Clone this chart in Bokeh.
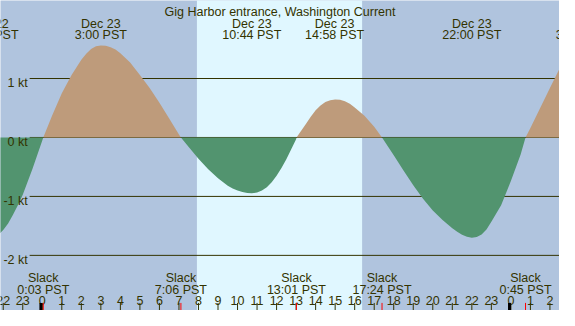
from bokeh.plotting import figure
from bokeh.models import Range1d
from bokeh.embed import file_html
from bokeh.resources import INLINE
from bokeh.core.properties import value

# ---------------- data (hours relative to Dec 23 00:00 PST, speed in knots) -------------
TITLE = "Gig Harbor entrance, Washington Current"

hours = [-2.75, -2.5, -2.25, -2.0, -1.75, -1.5, -1.25, -1.0, -0.5, 0.0, 0.05, 0.5, 1.0,
         1.5, 2.0, 2.25, 2.5, 2.75, 3.0, 3.25, 3.5, 3.75, 4.0, 4.5, 5.0, 5.5, 6.0, 6.5,
         7.0, 7.1, 7.5, 8.0, 8.5, 9.0, 9.5, 9.75, 10.0, 10.25, 10.5, 10.73, 11.0, 11.25,
         11.5, 11.75, 12.0, 12.25, 12.5, 12.75, 13.0, 13.02, 13.5, 13.75, 14.0, 14.25,
         14.5, 14.75, 15.0, 15.25, 15.5, 15.75, 16.0, 16.5, 17.0, 17.4, 18.0, 18.5, 19.0,
         19.5, 20.0, 20.5, 21.0, 21.25, 21.5, 21.75, 22.0, 22.25, 22.5, 22.75, 23.0, 23.5,
         24.0, 24.5, 24.75, 25.0, 25.5, 26.0, 26.5, 26.75]
speed = [-1.72, -1.70, -1.65, -1.57, -1.46, -1.31, -1.15, -0.97, -0.53, -0.05, 0.0, 0.37,
         0.75, 1.06, 1.32, 1.42, 1.50, 1.545, 1.56, 1.555, 1.53, 1.49, 1.43, 1.27, 1.06,
         0.84, 0.59, 0.32, 0.05, 0.0, -0.16, -0.36, -0.54, -0.69, -0.82, -0.865, -0.90,
         -0.925, -0.942, -0.947, -0.935, -0.90, -0.845, -0.76, -0.65, -0.52, -0.37, -0.20,
         -0.03, 0.0, 0.23, 0.35, 0.46, 0.54, 0.60, 0.63, 0.645, 0.638, 0.615, 0.57, 0.51,
         0.37, 0.18, 0.0, -0.30, -0.56, -0.81, -1.04, -1.24, -1.40, -1.54, -1.60, -1.65,
         -1.685, -1.70, -1.688, -1.645, -1.56, -1.43, -1.15, -0.74, -0.29, 0.0, 0.16, 0.50,
         0.84, 1.17, 1.33]

event_hours = [-2.73, 3.0, 10.73, 14.97, 22.0, 27.63]
event_dates = ["Dec 22", "Dec 23", "Dec 23", "Dec 23", "Dec 23", "Dec 24"]
event_times = ["21:16 PST", "3:00 PST", "10:44 PST", "14:58 PST", "22:00 PST", "3:38 PST"]

slack_hours = [0.05, 7.1, 13.017, 17.4, 24.75]
slack_times = ["0:03 PST", "7:06 PST", "13:01 PST", "17:24 PST", "0:45 PST"]

kt_values = [1, 0, -1, -2]
kt_labels = ["1 kt", "0 kt", "-1 kt", "-2 kt"]

tick_hours = list(range(-2, 27))
tick_labels = ["22", "23", "0", "1", "2", "3", "4", "5", "6", "7", "8", "9", "10", "11",
               "12", "13", "14", "15", "16", "17", "18", "19", "20", "21", "22", "23",
               "0", "1", "2"]
midnight_hours = [0, 24]

sunrise, sunset = 7.92, 16.38

# ---------------- style -----------------------------------------------------------------
NIGHT = "#b0c4de"
DAY = "#e0f7ff"
FLOOD = "#be9b7b"
EBB = "#52946f"
INK = "#333300"
FONT = value("Liberation Sans")
FS = "12.5px"

X0, X1 = -2.14, 26.49
Y0, Y1 = -2.935, 2.323


def py(pix):
    # reference pixel row -> knots
    return (144.0 - pix) / 62.0


p = figure(width=559, height=310, output_backend="svg", toolbar_location=None,
           x_range=Range1d(X0, X1), y_range=Range1d(Y0, Y1), min_border=0)
p.axis.visible = False
p.grid.visible = False
p.outline_line_color = None
p.background_fill_color = NIGHT
p.border_fill_color = NIGHT

# daylight band
p.quad(left=[sunrise], right=[sunset], bottom=[Y0 - 1], top=[Y1 + 1],
       fill_color=DAY, line_color=None)

# grid lines
grid_x0 = -0.647
p.segment(x0=[grid_x0] * len(kt_values), x1=[X1 + 1] * len(kt_values),
          y0=kt_values, y1=kt_values, line_color=INK, line_width=1)

# current fills
pos = [max(v, 0.0) for v in speed]
neg = [min(v, 0.0) for v in speed]
p.varea(x=hours, y1=[0.0] * len(hours), y2=pos, fill_color=FLOOD)
p.varea(x=hours, y1=neg, y2=[0.0] * len(hours), fill_color=EBB)

# y tick labels
p.text(x=[-0.747] * len(kt_values), y=[v - 4.5 / 62.0 for v in kt_values], text=kt_labels,
       text_font=FONT, text_font_size=FS, text_color=INK, text_align="right",
       text_baseline="alphabetic")

# title
p.text(x=[(X0 + X1) / 2], y=[py(12)], text=[TITLE], text_font=FONT, text_font_size=FS,
       text_color=INK, text_align="center", text_baseline="alphabetic")

# top event labels
p.text(x=event_hours, y=[py(24.3)] * len(event_hours), text=event_dates, text_font=FONT,
       text_font_size=FS, text_color=INK, text_align="center", text_baseline="alphabetic")
p.text(x=event_hours, y=[py(36.7)] * len(event_hours), text=event_times, text_font=FONT,
       text_font_size=FS, text_color=INK, text_align="center", text_baseline="alphabetic")

# slack labels
p.text(x=slack_hours, y=[py(292)] * len(slack_hours), text=["Slack"] * len(slack_hours),
       text_font=FONT, text_font_size=FS, text_color=INK, text_align="center",
       text_baseline="alphabetic")
p.text(x=slack_hours, y=[py(304.3)] * len(slack_hours), text=slack_times, text_font=FONT,
       text_font_size=FS, text_color=INK, text_align="center", text_baseline="alphabetic")

# hour labels
p.text(x=tick_hours, y=[py(315.3)] * len(tick_hours), text=tick_labels, text_font=FONT,
       text_font_size=FS, text_color=INK, text_align="center", text_baseline="alphabetic")

# hour ticks
t_top, t_bot = py(318), Y0 - 0.2
p.segment(x0=tick_hours, x1=tick_hours, y0=[t_top] * len(tick_hours),
          y1=[t_bot] * len(tick_hours), line_color=INK, line_width=1)
p.segment(x0=[h - 0.07 for h in midnight_hours], x1=[h - 0.07 for h in midnight_hours],
          y0=[t_top] * 2, y1=[t_bot] * 2, line_color="black", line_width=3)
p.segment(x0=slack_hours, x1=slack_hours, y0=[t_top] * len(slack_hours),
          y1=[t_bot] * len(slack_hours), line_color="red", line_width=1)

open("out.html", "w").write(file_html(p, INLINE))
